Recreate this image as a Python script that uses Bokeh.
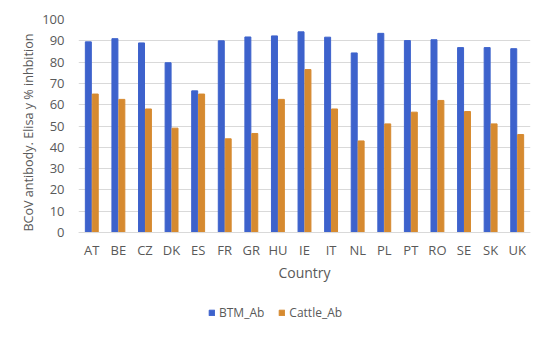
from bokeh.plotting import figure
from bokeh.models import ColumnDataSource, Legend, LegendItem, FactorRange, CategoricalAxis, Title, FixedTicker
from bokeh.transform import dodge
from bokeh.embed import file_html
from bokeh.resources import INLINE

countries = ["AT", "BE", "CZ", "DK", "ES", "FR", "GR", "HU", "IE", "IT", "NL", "PL", "PT", "RO", "SE", "SK", "UK"]
btm_ab = [89.5, 91, 89, 79.7, 66.5, 90, 91.8, 92.3, 94.2, 91.7, 84.3, 93.5, 90.1, 90.5, 86.8, 86.8, 86.3]
cattle_ab = [65, 62.5, 58, 49, 65, 44, 46.5, 62.5, 76.5, 58, 43, 51, 56.5, 62, 56.8, 51, 46]
y_ticks = [0, 10, 20, 30, 40, 50, 60, 70, 80, 90, 100]

src = ColumnDataSource(dict(c=countries, btm=btm_ab, cattle=cattle_ab))

FONT = "Open Sans"
GREY = "#595959"

p = figure(x_range=FactorRange(*countries, range_padding=0), y_range=(-42.7, 100),
           width=534, height=323, output_backend="svg", toolbar_location=None,
           x_axis_location=None,
           min_border_left=78, min_border_right=4, min_border_top=19, min_border_bottom=0)
p.x_range.range_padding = 0

r1 = p.vbar(x=dodge("c", -0.13, range=p.x_range), top="btm", width=0.225, source=src,
            color="#3D62CC")
r2 = p.vbar(x=dodge("c", 0.13, range=p.x_range), top="cattle", width=0.225, source=src,
            color="#D68A30")

p.outline_line_color = None
p.xgrid.grid_line_color = None
p.ygrid.grid_line_color = "#d9d9d9"
p.yaxis.ticker = FixedTicker(ticks=y_ticks)
p.yaxis.axis_line_color = None
p.yaxis.major_tick_line_color = None
p.yaxis.minor_tick_line_color = None
p.yaxis.major_label_text_font = FONT
p.yaxis.major_label_text_font_size = "13px"
p.yaxis.major_label_text_color = GREY
p.yaxis.major_label_standoff = 8

xaxis = CategoricalAxis(fixed_location=0, axis_label="Country")
xaxis.axis_line_color = "#d9d9d9"
xaxis.major_tick_line_color = None
xaxis.minor_tick_line_color = None
xaxis.major_label_text_font = FONT
xaxis.major_label_text_font_size = "13px"
xaxis.major_label_text_color = GREY
xaxis.major_label_standoff = 2
xaxis.axis_label_text_font = FONT
xaxis.axis_label_text_font_size = "14px"
xaxis.axis_label_text_font_style = "normal"
xaxis.axis_label_text_color = GREY
xaxis.axis_label_standoff = 1
p.add_layout(xaxis, "below")

ytitle = Title(text="BCoV antibody. Elisa y % inhbition", align="right", offset=14,
               text_font=FONT, text_font_size="12.6px", text_font_style="normal",
               text_color=GREY, standoff=5)
p.add_layout(ytitle, "left")

legend = Legend(items=[LegendItem(label="BTM_Ab", renderers=[r1]),
                       LegendItem(label="Cattle_Ab", renderers=[r2])],
                orientation="horizontal", location=(130, 2),
                label_text_font=FONT, label_text_font_size="12px",
                label_text_color=GREY, glyph_width=7, glyph_height=7,
                label_height=16, spacing=14, label_standoff=4,
                background_fill_alpha=0, border_line_color=None, padding=2, margin=0)
p.add_layout(legend, "center")

open("out.html", "w").write(file_html(p, INLINE))
